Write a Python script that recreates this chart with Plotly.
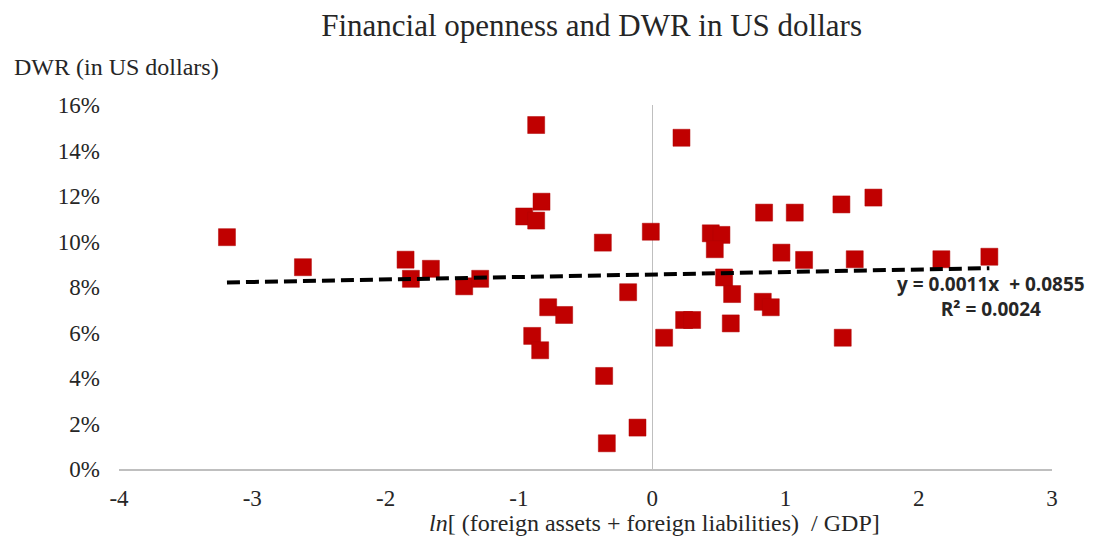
import plotly.graph_objects as go

# Data
openness = [-3.19, -2.62, -1.85, -1.81, -1.66, -1.41, -1.29,
            -0.87, -0.96, -0.87, -0.83, -0.90, -0.84, -0.78, -0.66,
            -0.37, -0.36, -0.34, -0.18, -0.11, -0.01, 0.09, 0.22,
            0.24, 0.30, 0.44, 0.52, 0.47, 0.54, 0.60, 0.59,
            0.83, 0.89, 0.84, 1.07, 0.97, 1.14, 1.42, 1.43,
            1.52, 1.66, 2.17, 2.53]
dwr = [0.1019, 0.0887, 0.0920, 0.0836, 0.0880, 0.0803, 0.0836,
       0.1512, 0.1110, 0.1092, 0.1175, 0.0585, 0.0522, 0.0711, 0.0677,
       0.0995, 0.0409, 0.0113, 0.0777, 0.0182, 0.1043, 0.0577, 0.1456,
       0.0655, 0.0655, 0.1036, 0.1029, 0.0966, 0.0842, 0.0769, 0.0640,
       0.0735, 0.0711, 0.1127, 0.1127, 0.0951, 0.0919, 0.1163, 0.0577,
       0.0922, 0.1193, 0.0922, 0.0933]

trend_slope = 0.0011
trend_intercept = 0.0855
r_squared = 0.0024

x_ticks = [-4, -3, -2, -1, 0, 1, 2, 3]
x_tick_labels = ["-4", "-3", "-2", "-1", "0", "1", "2", "3"]
y_ticks = [0, 0.02, 0.04, 0.06, 0.08, 0.10, 0.12, 0.14, 0.16]

serif = "Liberation Serif, Times New Roman, serif"
sans = "Open Sans, Liberation Sans, sans-serif"
text_color = "#262626"

x_min, x_max = min(openness), max(openness)

fig = go.Figure()
fig.add_trace(go.Scatter(
    x=openness, y=dwr, mode="markers",
    marker=dict(symbol="square", size=17, color="#C00000",
                line=dict(color="#B00000", width=0.5)),
    showlegend=False, hoverinfo="x+y"))

fig.add_trace(go.Scatter(
    x=[x_min, x_max],
    y=[trend_slope * x_min + trend_intercept, trend_slope * x_max + trend_intercept],
    mode="lines",
    line=dict(color="black", width=4, dash="13px,6px"),
    showlegend=False, hoverinfo="skip"))

fig.add_annotation(
    x=0.9346, y=0.474, xref="paper", yref="paper",
    xanchor="center", yanchor="middle", align="center", showarrow=False,
    text=f"<b>y = {trend_slope}x  + {trend_intercept}</b><br><b>R² = {r_squared}</b>",
    font=dict(family=sans, size=19, color=text_color))

fig.add_annotation(
    x=0.0, y=1.0, xref="paper", yref="paper", xanchor="left", yanchor="middle",
    xshift=-107, yshift=38, showarrow=False,
    text="DWR (in US dollars)",
    font=dict(family=serif, size=24, color=text_color))

fig.add_annotation(
    x=0.0, y=0.0, xref="x", yref="paper", xanchor="center", yanchor="middle",
    xshift=2, yshift=-54, showarrow=False,
    text="<i>ln</i>[ (foreign assets + foreign liabilities)  / GDP]",
    font=dict(family=serif, size=24, color=text_color))

fig.update_layout(
    width=1097, height=546,
    margin=dict(l=111, r=53, t=97, b=85),
    paper_bgcolor="white", plot_bgcolor="white",
    title=dict(text="Financial openness and DWR in US dollars",
               x=0.532, xanchor="center", y=0.968, yanchor="middle",
               font=dict(family=serif, size=31, color=text_color)),
    xaxis=dict(range=[-4, 3], tickvals=x_ticks, ticktext=x_tick_labels,
               showgrid=False,
               zeroline=True, zerolinecolor="#BFBFBF", zerolinewidth=1,
               showline=True, linecolor="#BFBFBF", linewidth=1.5,
               ticks="", ticklabelstandoff=8,
               tickfont=dict(family=serif, size=23, color=text_color)),
    yaxis=dict(range=[0, 0.16], tickvals=y_ticks, tickformat=".0%",
               showgrid=False, zeroline=False, showline=False,
               ticks="", ticklabelstandoff=18,
               tickfont=dict(family=serif, size=23, color=text_color)),
)

fig.write_html("out.html")
